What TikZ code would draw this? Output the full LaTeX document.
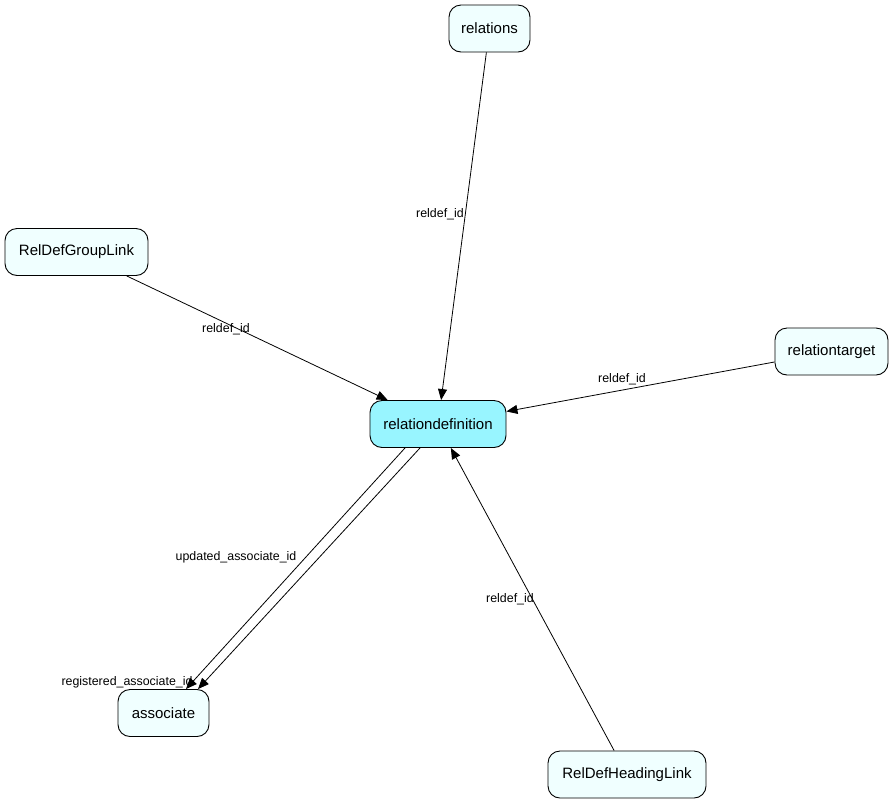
\documentclass[tikz,border=0pt]{standalone}
\usepackage{fontspec}
\setmainfont{Liberation Sans}
\usetikzlibrary{arrows.meta}
\definecolor{nodefill}{RGB}{240,255,255}
\definecolor{centerfill}{RGB}{152,245,255}
\tikzset{
  tbl/.style={draw=black, line width=0.9pt, rounded corners=12pt, fill=nodefill,
    minimum height=47pt, inner xsep=0pt, font=\fontsize{15}{18}\selectfont},
  ctr/.style={tbl, fill=centerfill},
  fk/.style={draw=black, line width=0.8pt, -{Triangle[length=11pt,width=9pt]}},
  lbl/.style={font=\fontsize{12.4}{14}\selectfont, inner sep=0pt}
}
\begin{document}
\begin{tikzpicture}[x=1pt,y=-1pt]
\useasboundingbox (0,0) rectangle (894,804);
\node[tbl, minimum width=81pt] (relations) at (489.5,28.5) {relations};
\node[tbl, minimum width=143pt] (groupl) at (76.5,252) {RelDefGroupLink};
\node[tbl, minimum width=113pt] (target) at (831.5,351.5) {relationtarget};
\node[ctr, minimum width=136pt] (rd) at (438,424) {relationdefinition};
\node[tbl, minimum width=91pt] (assoc) at (163.5,713) {associate};
\node[tbl, minimum width=158pt] (headl) at (627,774.5) {RelDefHeadingLink};

\draw[fk] (relations) -- (rd);
\draw[fk] (groupl) -- (rd);
\draw[fk] (target) -- (rd);
\draw[fk] (headl) -- (rd);
\draw[fk] ([xshift=-33pt]rd.south) -- ([xshift=22.5pt]assoc.north);
\draw[fk] ([xshift=-18pt]rd.south) -- ([xshift=34.5pt]assoc.north);

\node[lbl] (l1) at (440,214) {reldef\_id};
\node[lbl] (l2) at (226,329) {reldef\_id};
\node[lbl] (l3) at (622,379) {reldef\_id};
\node[lbl] (l4) at (510,599) {reldef\_id};
\node[lbl] (l5) at (236,557) {updated\_associate\_id};
\node[lbl] (l6) at (127,682) {registered\_associate\_id};
\end{tikzpicture}
\end{document}
